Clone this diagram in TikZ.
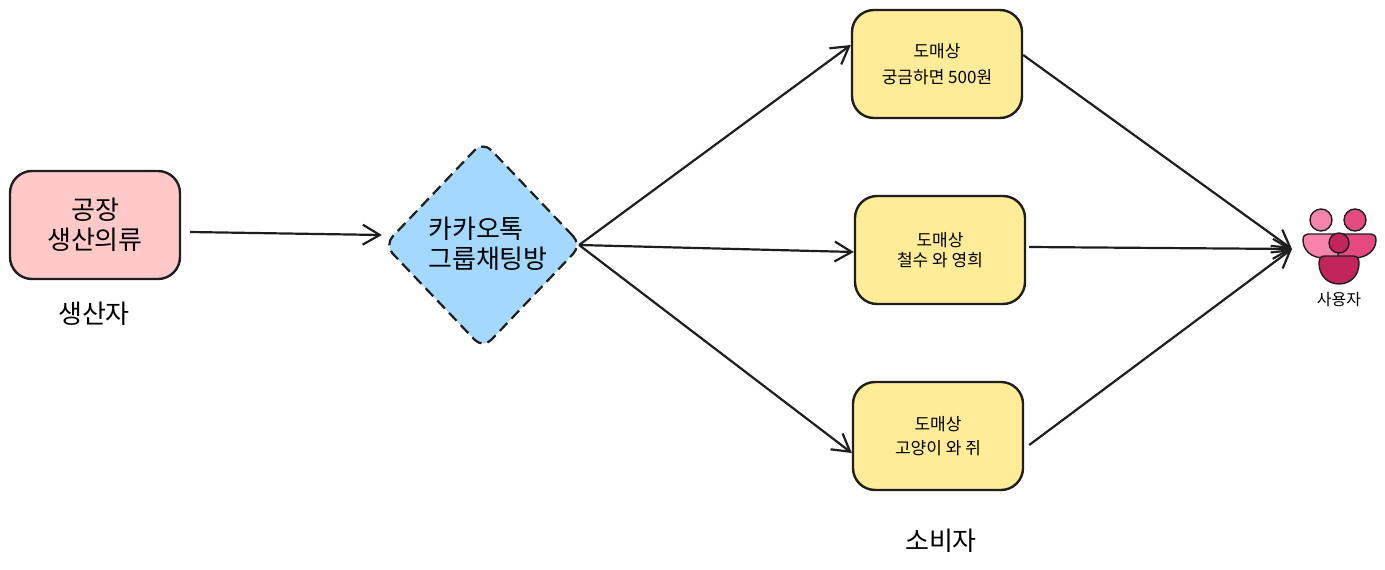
\documentclass[tikz,border=0pt]{standalone}
\usepackage{fontspec}
\setmainfont{Noto Sans CJK KR}
\usetikzlibrary{arrows.meta,shapes.geometric}
\definecolor{factorypink}{HTML}{FFC9C9}
\definecolor{shopyellow}{HTML}{FFEC99}
\definecolor{chatblue}{HTML}{A5D8FF}
\definecolor{linegray}{HTML}{1E1E1E}
\definecolor{userlight}{HTML}{F783AC}
\definecolor{usermid}{HTML}{E64980}
\definecolor{userdark}{HTML}{C2255C}
\tikzset{
    box/.style={draw=linegray,line width=2.4pt,rounded corners=22pt,minimum width=170pt,minimum height=108pt,inner sep=0pt,align=center},
    shopbox/.style={box,fill=shopyellow},
    arrowline/.style={draw=linegray,line width=2.2pt,-{Straight Barb[length=17pt,width=20pt,line width=2.2pt]}},
    userpart/.style={draw=linegray,line width=1.4pt},
    biglabel/.style={font=\fontsize{26}{30}\selectfont,inner sep=0pt}
}
\newcommand{\shopfont}[1]{\fontsize{17}{#1}\selectfont}
\begin{document}
\begin{tikzpicture}[x=1pt,y=-1pt]
    \useasboundingbox (0,0) rectangle (1385,570);

    \node[box,fill=factorypink,biglabel,minimum width=170pt,minimum height=108pt] (factory) at (95,225) {공장\\생산의류};
    \node[biglabel] (maker) at (94,314) {생산자};

    \node[diamond,draw=linegray,fill=chatblue,line width=2.2pt,dash pattern=on 11pt off 6pt,rounded corners=12pt,
        minimum width=198pt,minimum height=208pt,inner sep=0pt] (chat) at (483,245) {};
    \node[biglabel,align=left] (chattext) at (488,244) {카카오톡\\그룹채팅방};

    \node[shopbox,font=\shopfont{26}] (shopa) at (937,64) {도매상\\궁금하면 500원};
    \node[shopbox,font=\shopfont{20}] (shopb) at (940,250) {도매상\\철수 와 영희};
    \node[shopbox,font=\shopfont{24}] (shopc) at (938,436) {도매상\\고양이 와 쥐};
    \node[biglabel] (buyer) at (941,541) {소비자};

    \coordinate (users) at (1292,249);

    % icon
    \draw[userpart,fill=userlight] (1321,220) circle (11);
    \draw[userpart,fill=usermid] (1355,220) circle (11);
    \draw[userpart,fill=userlight] (1308,234) -- (1340,234) -- (1340,258) -- (1324,258)
        .. controls (1311,258) and (1303,250) .. (1303,240) .. controls (1303,236) and (1305,234) .. (1308,234);
    \draw[userpart,fill=usermid] (1371,234) -- (1338,234) -- (1338,258) -- (1354,258)
        .. controls (1367,258) and (1376,250) .. (1376,240) .. controls (1376,236) and (1374,234) .. (1371,234);
    \draw[userpart,fill=userdark] (1339,243) circle (10);
    \draw[userpart,fill=userdark] (1325,256) -- (1353,256) .. controls (1357,256) and (1359,258) .. (1359,263)
        .. controls (1359,276) and (1350,284) .. (1339,284) .. controls (1328,284) and (1319,276) .. (1319,263)
        .. controls (1319,258) and (1321,256) .. (1325,256);
    \node[font=\fontsize{16}{18}\selectfont,inner sep=0pt] (userlabel) at (1339,300) {사용자};

    \draw[arrowline] ([shift={(9,7)}]factory.east) -- ([xshift=-1pt,yshift=10pt]chat.west);
    \draw[arrowline] ([xshift=-4pt]chat.east) -- ([yshift=19pt]shopa.west);
    \draw[arrowline] ([xshift=-4pt]chat.east) -- ([yshift=-2pt]shopb.west);
    \draw[arrowline] ([xshift=-4pt]chat.east) -- ([yshift=-17pt]shopc.west);
    \draw[arrowline] ([yshift=9pt]shopa.east) -- (users);
    \draw[arrowline] ([xshift=3pt,yshift=3pt]shopb.east) -- (users);
    \draw[arrowline] ([xshift=5pt,yshift=-9pt]shopc.east) -- (users);

\end{tikzpicture}
\end{document}
